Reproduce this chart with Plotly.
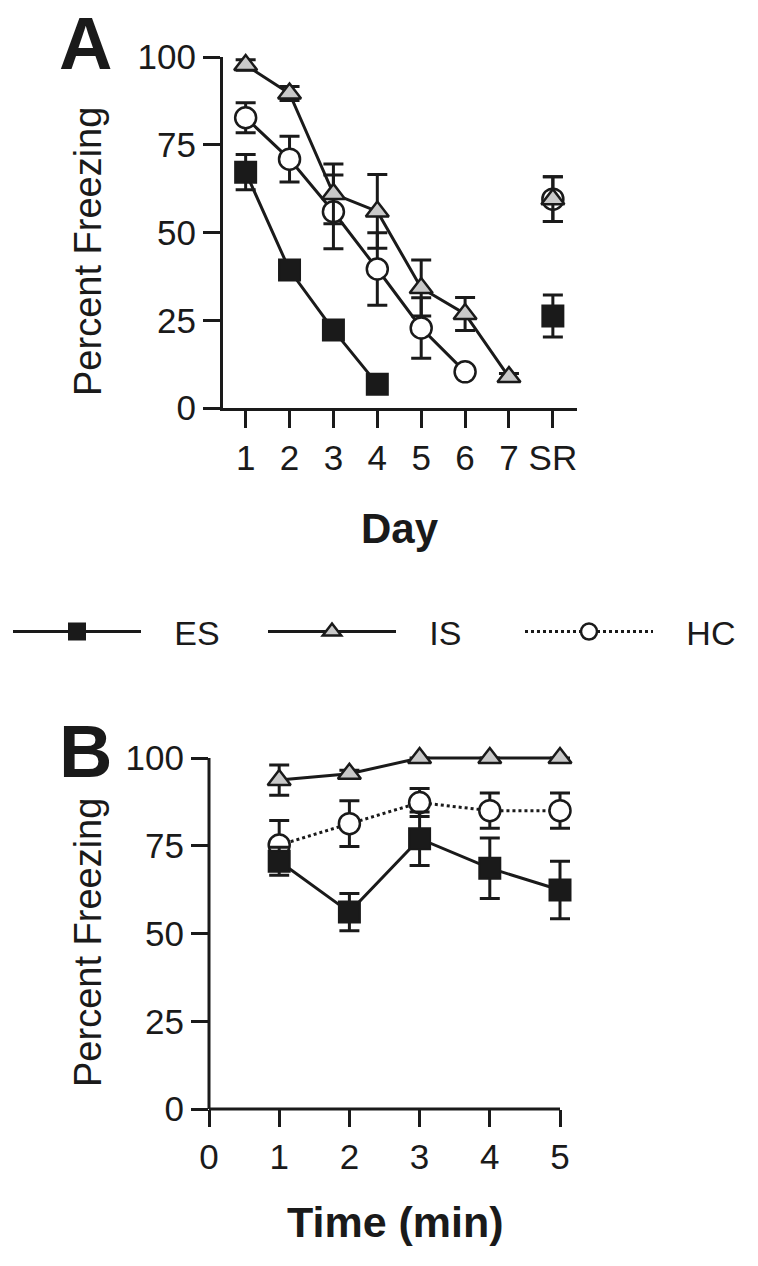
import plotly.graph_objects as go

# ---------------- Data ----------------
# Panel A: extinction days
days = ["1", "2", "3", "4", "5", "6", "7"]
sr_label = ["SR"]

es_a = [67.2, 39.3, 22.2, 6.8]
es_a_err = [5.0, 1.5, 1.5, 1.5]
es_a_sr = [26.2]
es_a_sr_err = [6.0]

is_a = [97.7, 89.6, 61.0, 56.0, 34.2, 26.8, 8.8]
is_a_err = [1.5, 2.0, 8.5, 10.5, 8.0, 4.7, 1.0]
is_a_sr = [59.5]
is_a_sr_err = [6.4]

hc_a = [82.7, 70.9, 55.9, 39.6, 22.8, 10.3]
hc_a_err = [4.3, 6.5, 10.5, 10.3, 8.6, 1.0]
hc_a_sr = [59.5]
hc_a_sr_err = [6.4]

# Panel B: minutes of test
minutes = [1, 2, 3, 4, 5]
es_b = [70.6, 56.1, 77.0, 68.6, 62.4]
es_b_err = [4.0, 5.3, 7.6, 8.6, 8.2]
is_b = [93.7, 95.5, 100.0, 100.0, 100.0]
is_b_err = [4.3, 1.0, 0.0, 0.0, 0.0]
hc_b = [75.2, 81.3, 87.3, 85.0, 85.0]
hc_b_err = [7.0, 6.5, 4.0, 5.0, 5.0]

y_ticks = [0, 25, 50, 75, 100]
x_ticks_b = [0, 1, 2, 3, 4, 5]

# ---------------- Styles ----------------
INK = "#1a1a1a"
GRAY = "#c9c9c9"
FONT = "Liberation Sans, Arial, Helvetica, sans-serif"
W, H = 758, 1266

styles = {
    "ES": dict(marker=dict(symbol="square", size=21, color=INK, line=dict(color=INK, width=2)),
               line=dict(color=INK, width=3)),
    "IS": dict(marker=dict(symbol="triangle-up", size=20, color=GRAY, line=dict(color=INK, width=2.5)),
               line=dict(color=INK, width=3)),
    "HC": dict(marker=dict(symbol="circle", size=21, color="white", line=dict(color=INK, width=2.5)),
               line=dict(color=INK, width=3)),
}


def err(vals):
    return dict(type="data", array=vals, visible=True, color=INK, thickness=3, width=10)


fig = go.Figure()

# ---- Panel A ----
for name, x, y, e in [
    ("HC", days[:len(hc_a)], hc_a, hc_a_err),
    ("ES", days[:len(es_a)], es_a, es_a_err),
    ("IS", days[:len(is_a)], is_a, is_a_err),
]:
    fig.add_trace(go.Scatter(x=x, y=y, error_y=err(e), mode="lines+markers",
                             showlegend=False, cliponaxis=False,
                             xaxis="x", yaxis="y", **styles[name]))
for name, y, e in [("HC", hc_a_sr, hc_a_sr_err), ("ES", es_a_sr, es_a_sr_err), ("IS", is_a_sr, is_a_sr_err)]:
    fig.add_trace(go.Scatter(x=sr_label, y=y, error_y=err(e), mode="markers",
                             showlegend=False, cliponaxis=False,
                             xaxis="x", yaxis="y", marker=styles[name]["marker"]))

# ---- Panel B ----
legend_ref = {"ES": "legend", "IS": "legend2", "HC": "legend3"}
for name, y, e in [("HC", hc_b, hc_b_err), ("ES", es_b, es_b_err), ("IS", is_b, is_b_err)]:
    st = dict(styles[name])
    ln = dict(st["line"])
    if name == "HC":
        ln["dash"] = "dot"
    fig.add_trace(go.Scatter(x=minutes, y=y, error_y=err(e), mode="lines+markers",
                             name="\u00a0\u00a0\u00a0" + name, legend=legend_ref[name],
                             cliponaxis=False,
                             xaxis="x2", yaxis="y2", marker=st["marker"], line=ln))

axis_common = dict(linecolor=INK, linewidth=3, ticks="outside",
                   ticklen=17, tickwidth=3, tickcolor=INK, showgrid=False, zeroline=False,
                   tickfont=dict(family=FONT, size=35, color=INK))


def legend_at(px):
    return dict(orientation="h", x=px / W, xanchor="left", y=1 - 632 / H, yanchor="middle",
                itemwidth=128, font=dict(family=FONT, size=34, color=INK),
                bgcolor="rgba(0,0,0,0)", itemsizing="trace")


# Panel B: plot area padded beyond the last tick so the top line / end caps are not clipped;
# the visible axis lines are drawn only from the first to the last tick.
bx0, bx1 = 209, 560           # pixel span of 0..5
by0, by1 = 1109, 758          # pixel span of 0..100
x_pad, y_pad = 0.25, 4.0      # data units of padding
bx_scale = (bx1 - bx0) / (x_ticks_b[-1] - x_ticks_b[0])
by_scale = (by0 - by1) / (y_ticks[-1] - y_ticks[0])
bx_range = [x_ticks_b[0], x_ticks_b[-1] + x_pad]
by_range = [y_ticks[0], y_ticks[-1] + y_pad]
x_end_frac = (x_ticks_b[-1] - bx_range[0]) / (bx_range[1] - bx_range[0])
y_end_frac = (y_ticks[-1] - by_range[0]) / (by_range[1] - by_range[0])

fig.update_layout(
    width=W, height=H,
    margin=dict(l=0, r=0, t=0, b=0, pad=0, autoexpand=False),
    paper_bgcolor="white", plot_bgcolor="white",
    font=dict(family=FONT, color=INK),
    xaxis=dict(domain=[223 / W, 577 / W], type="category",
               categoryorder="array", categoryarray=days + sr_label,
               range=[-0.516, 7.55], anchor="y", showline=True, **axis_common),
    yaxis=dict(domain=[1 - 408 / H, 1 - 57 / H], range=[0, 100], tickvals=y_ticks,
               anchor="x", showline=True, **axis_common),
    xaxis2=dict(domain=[bx0 / W, (bx1 + x_pad * bx_scale) / W],
                range=bx_range, tickvals=x_ticks_b,
                anchor="y2", showline=False, **axis_common),
    yaxis2=dict(domain=[1 - by0 / H, 1 - (by1 - y_pad * by_scale) / H],
                range=by_range, tickvals=y_ticks,
                anchor="x2", showline=False, **axis_common),
    legend=legend_at(8),
    legend2=legend_at(263),
    legend3=legend_at(520),
    shapes=[
        dict(type="line", xref="x2 domain", yref="y2 domain", x0=0, x1=x_end_frac,
             y0=0, y1=0, line=dict(color=INK, width=3), layer="above"),
        dict(type="line", xref="x2 domain", yref="y2 domain", x0=0, x1=0,
             y0=0, y1=y_end_frac, line=dict(color=INK, width=3), layer="above"),
    ],
)

annotations = [
    dict(text="<b>A</b>", x=85 / W, y=1 - 43 / H, font=dict(size=74)),
    dict(text="<b>B</b>", x=85 / W, y=1 - 752 / H, font=dict(size=74)),
    dict(text="Percent Freezing", x=88 / W, y=1 - 252 / H, textangle=-90, font=dict(size=38)),
    dict(text="Percent Freezing", x=88 / W, y=1 - 943 / H, textangle=-90, font=dict(size=38)),
    dict(text="<b>Day</b>", x=400 / W, y=1 - 528 / H, font=dict(size=42)),
    dict(text="<b>Time (min)</b>", x=395 / W, y=1 - 1222 / H, font=dict(size=43)),
]
for a in annotations:
    a.update(xref="paper", yref="paper", xanchor="center", yanchor="middle", showarrow=False)
    a["font"].update(family=FONT, color=INK)
fig.update_layout(annotations=annotations)

fig.write_html("out.html", config={"displayModeBar": False},
               post_script="document.body.style.margin='0px';")
